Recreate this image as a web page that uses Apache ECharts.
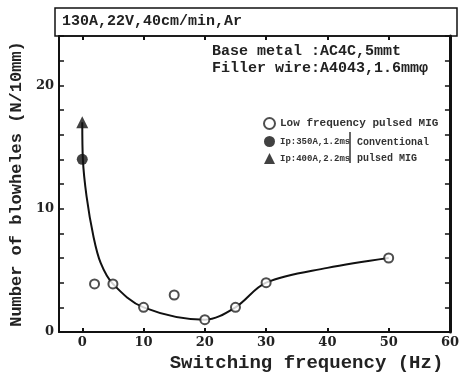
<!DOCTYPE html>
<html>
<head>
    <meta charset="utf-8">
    <title>Blowholes vs switching frequency</title>
    <script src="https://cdn.jsdelivr.net/npm/echarts@6.0.0/dist/echarts.min.js"></script>
    <style>
        html, body { margin: 0; padding: 0; background: #fff; }
        #chart { width: 462px; height: 378px; }
    </style>
</head>
<body>
    <div id="chart"></div>
    <script>
        // 低频脉冲 MIG 的测量点
        var lowFreqPoints = [[2, 3.9], [5, 3.9], [10, 2], [15, 3], [20, 1], [25, 2], [30, 4], [50, 6]];
        // 常规脉冲 MIG
        var ip350Points = [[0, 14]];
        var ip400Points = [[0, 17]];
        // 手绘趋势曲线
        var trendCurve = [[0, 17], [0.1, 14], [0.7, 11], [1.8, 7.8], [3, 5.6], [5, 3.9],
            [10, 2], [20, 1], [25, 2], [30, 4], [40, 5.2], [50, 6]];
        var xTicks = [0, 10, 20, 30, 40, 50, 60];
        var legendNames = ['Low frequency pulsed MIG', 'Ip:350A,1.2ms', 'Ip:400A,2.2ms'];

        var mono = 'Liberation Mono';
        var chart = echarts.init(document.getElementById('chart'));

        var option = {
            backgroundColor: '#fff',
            animation: false,
            grid: { left: 55, right: 5, top: 36, bottom: 40 },
            xAxis: [{
                type: 'value',
                min: -3.8,
                max: 60,
                name: 'Switching frequency (Hz)',
                nameLocation: 'middle',
                nameGap: 22,
                nameTextStyle: { fontFamily: mono, fontWeight: 'bold', fontSize: 19, color: '#222', padding: [0, 0, 0, 104] },
                axisLine: { onZero: false, lineStyle: { color: '#111', width: 2 } },
                axisTick: { inside: true, length: 4, customValues: xTicks, lineStyle: { color: '#111', width: 2 } },
                axisLabel: { customValues: xTicks, margin: 4, fontFamily: 'DejaVu Serif', fontWeight: 'bold', fontSize: 13, color: '#222' },
                splitLine: { show: false }
            }, {
                type: 'value',
                position: 'top',
                min: -3.8,
                max: 60,
                axisLine: { onZero: false, lineStyle: { color: '#111', width: 1.5 } },
                axisTick: { inside: true, length: 4, customValues: xTicks, lineStyle: { color: '#111', width: 2 } },
                axisLabel: { show: false },
                splitLine: { show: false }
            }],
            yAxis: [{
                type: 'value',
                min: 0,
                max: 24,
                interval: 2,
                name: 'Number of blowheles (N/10mm)',
                nameLocation: 'middle',
                nameGap: 27,
                nameTextStyle: { fontFamily: mono, fontWeight: 'bold', fontSize: 17, color: '#222' },
                axisLine: { onZero: false, lineStyle: { color: '#111', width: 2 } },
                axisTick: { inside: true, length: 5, lineStyle: { color: '#111', width: 1.5 } },
                axisLabel: {
                    margin: 5, fontFamily: 'DejaVu Serif', fontWeight: 'bold', fontSize: 13, color: '#222',
                    formatter: function (v) { return v % 10 === 0 ? v : ''; }
                },
                splitLine: { show: false }
            }, {
                type: 'value',
                position: 'right',
                min: 0,
                max: 24,
                interval: 2,
                axisLine: { onZero: false, lineStyle: { color: '#111', width: 3 } },
                axisTick: { inside: true, length: 5, lineStyle: { color: '#111', width: 1.5 } },
                axisLabel: { show: false },
                splitLine: { show: false }
            }],
            legend: {
                orient: 'vertical',
                left: 258,
                top: 112,
                itemGap: 6,
                itemWidth: 11,
                itemHeight: 11,
                data: legendNames,
                formatter: function (name) {
                    return name === legendNames[0] ? '{a|' + name + '}' : '{b|' + name + '}';
                },
                textStyle: {
                    fontFamily: mono, fontWeight: 'bold', color: '#333',
                    rich: {
                        a: { fontFamily: mono, fontWeight: 'bold', fontSize: 11, color: '#333' },
                        b: { fontFamily: mono, fontWeight: 'bold', fontSize: 9, color: '#333' }
                    }
                }
            },
            series: [
                {
                    name: 'curve',
                    type: 'line',
                    data: trendCurve,
                    smooth: 0.35,
                    showSymbol: false,
                    lineStyle: { color: '#111', width: 2 },
                    z: 1
                },
                {
                    name: legendNames[0],
                    type: 'scatter',
                    data: lowFreqPoints,
                    symbol: 'circle',
                    symbolSize: 9,
                    itemStyle: { color: '#fff', borderColor: '#222', borderWidth: 2 },
                    z: 3
                },
                {
                    name: legendNames[1],
                    type: 'scatter',
                    data: ip350Points,
                    symbol: 'circle',
                    symbolSize: 11,
                    itemStyle: { color: '#111' },
                    z: 3
                },
                {
                    name: legendNames[2],
                    type: 'scatter',
                    data: ip400Points,
                    symbol: 'triangle',
                    symbolSize: 12,
                    itemStyle: { color: '#111' },
                    z: 3
                }
            ],
            graphic: [
                {
                    type: 'rect',
                    shape: { x: 55, y: 8, width: 402, height: 28 },
                    style: { fill: '#fff', stroke: '#111', lineWidth: 1.5 }
                },
                {
                    type: 'text', left: 62, top: 14,
                    style: { text: '130A,22V,40cm/min,Ar', font: 'bold 15px "Liberation Mono"', fill: '#222' }
                },
                {
                    type: 'text', left: 212, top: 43,
                    style: { text: 'Base metal :AC4C,5mmt\nFiller wire:A4043,1.6mmφ', font: 'bold 15px "Liberation Mono"', fill: '#222', lineHeight: 17 }
                },
                {
                    type: 'line',
                    shape: { x1: 350, y1: 132, x2: 350, y2: 163 },
                    style: { stroke: '#333', lineWidth: 1.5 }
                },
                {
                    type: 'text', left: 357, top: 134,
                    style: { text: 'Conventional\npulsed MIG', font: 'bold 10px "Liberation Mono"', fill: '#333', lineHeight: 16 }
                }
            ]
        };
        chart.setOption(option);
    </script>
</body>
</html>
